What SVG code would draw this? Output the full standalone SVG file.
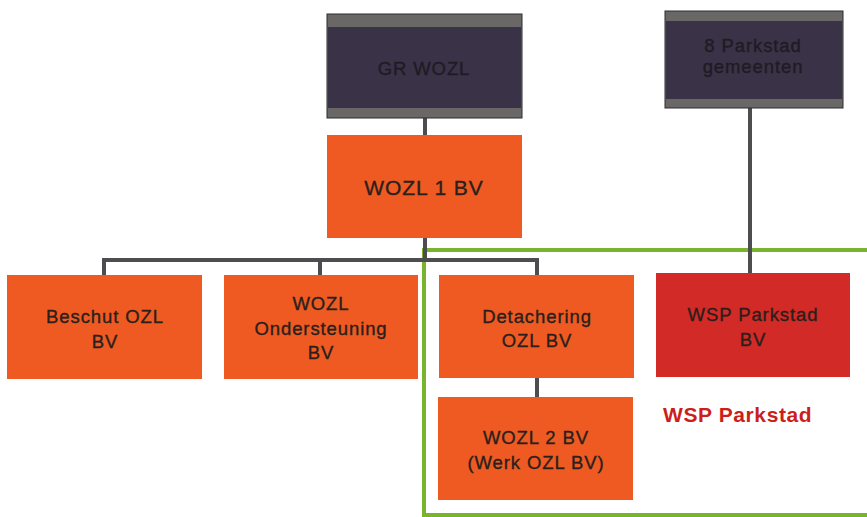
<svg xmlns="http://www.w3.org/2000/svg" width="867" height="517" viewBox="0 0 867 517">
<style>
.t{font-family:"Liberation Sans",Arial,sans-serif;font-size:18.5px;letter-spacing:0.9px;fill:#2a1f1c;stroke:#2a1f1c;stroke-width:0.35px;text-anchor:middle}
.d{fill:#1f1b24;stroke:#1f1b24}
.o{fill:#ee5a22}
.r{fill:#d22a26}
.band{fill:#6a6767}
.pur{fill:#3a3247}
.c{stroke:#4d4c4f;stroke-width:4;fill:none}
.g{stroke:#78b52c;stroke-width:4;fill:none}
</style>
<rect width="867" height="517" fill="#ffffff"/>
<g id="green-frame">
<path class="g" d="M870 250 H424 V515 H870"/>
</g>
<g id="connectors">
<path class="c" d="M425 118 V135"/>
<path class="c" d="M425 238 V260"/>
<path class="c" d="M104 275 V260 H537 V275"/>
<path class="c" d="M320 260 V275"/>
<path class="c" d="M537 378 V397"/>
<path class="c" d="M750 108 V273"/>
</g>
<g id="gr-wozl">
<rect x="327" y="14" width="195" height="104" class="band" stroke="#2e2c2e" stroke-width="1"/>
<rect x="328" y="27" width="193" height="81" class="pur"/>
<text class="t d" x="424" y="75" font-size="19.5">GR WOZL</text>
</g>
<g id="parkstad-gemeenten">
<rect x="665" y="11" width="178" height="97" class="band" stroke="#2e2c2e" stroke-width="1"/>
<rect x="666" y="21" width="176" height="78" class="pur"/>
<text class="t d" x="753" y="52">8 Parkstad</text>
<text class="t d" x="753" y="73">gemeenten</text>
</g>
<g id="wozl1">
<rect x="327" y="135" width="195" height="103" class="o"/>
<text class="t" x="424" y="195" style="font-size:21px">WOZL 1 BV</text>
</g>
<g id="beschut">
<rect x="7" y="275" width="195" height="104" class="o"/>
<text class="t" x="105" y="323">Beschut OZL</text>
<text class="t" x="105" y="348">BV</text>
</g>
<g id="ondersteuning">
<rect x="224" y="275" width="194" height="104" class="o"/>
<text class="t" x="321" y="310">WOZL</text>
<text class="t" x="321" y="335">Ondersteuning</text>
<text class="t" x="321" y="359">BV</text>
</g>
<g id="detachering">
<rect x="439" y="275" width="195" height="103" class="o"/>
<text class="t" x="537" y="323">Detachering</text>
<text class="t" x="537" y="347">OZL BV</text>
</g>
<g id="wozl2">
<rect x="438" y="397" width="195" height="103" class="o"/>
<text class="t" x="536" y="444">WOZL 2 BV</text>
<text class="t" x="536" y="469">(Werk OZL BV)</text>
</g>
<g id="wsp-parkstad-bv">
<rect x="656" y="273" width="194" height="104" class="r"/>
<text class="t" x="753" y="321">WSP Parkstad</text>
<text class="t" x="753" y="346">BV</text>
</g>
<g id="wsp-label">
<text x="663" y="422" font-family="'Liberation Sans',Arial,sans-serif" font-weight="bold" font-size="21" fill="#cc1f1a" letter-spacing="0.6">WSP Parkstad</text>
</g>
</svg>
